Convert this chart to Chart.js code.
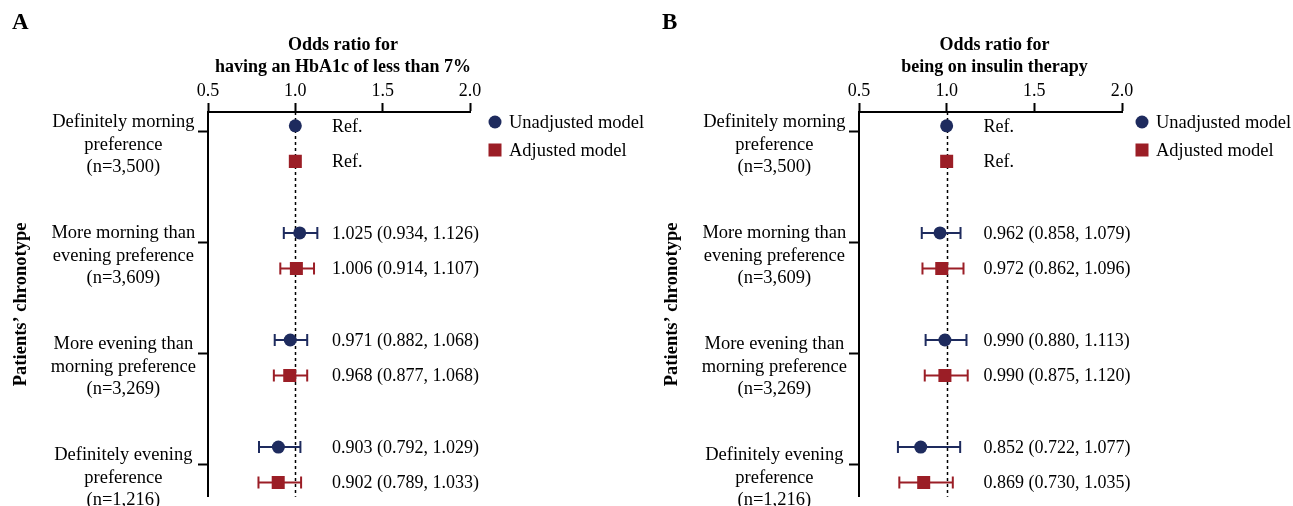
<!DOCTYPE html>
<html>
<head>
<meta charset="utf-8">
<script src="https://cdn.jsdelivr.net/npm/chart.js@4"></script>
<style>
  body { margin: 0; background: #fff; }
  .panel { position: absolute; top: 0; height: 506px; }
  #wrapA { left: 0; width: 646px; }
  #wrapB { left: 646px; width: 647px; }
</style>
</head>
<body>
<div class="panel" id="wrapA"><canvas id="chartA"></canvas></div>
<div class="panel" id="wrapB"><canvas id="chartB"></canvas></div>
<script>
// chronotype groups (y axis labels)
const groups = [
  ['Definitely morning', 'preference', '(n=3,500)'],
  ['More morning than', 'evening preference', '(n=3,609)'],
  ['More evening than', 'morning preference', '(n=3,269)'],
  ['Definitely evening', 'preference', '(n=1,216)']
];
const seriesNames = ['Unadjusted model', 'Adjusted model'];
const xTicks = [0.5, 1.0, 1.5, 2.0];

// panel A: HbA1c < 7%
const hba1cUnadjOR = [1.000, 1.025, 0.971, 0.903];
const hba1cUnadjLow = [null, 0.934, 0.882, 0.792];
const hba1cUnadjHigh = [null, 1.126, 1.068, 1.029];
const hba1cAdjOR = [1.000, 1.006, 0.968, 0.902];
const hba1cAdjLow = [null, 0.914, 0.877, 0.789];
const hba1cAdjHigh = [null, 1.107, 1.068, 1.033];

// panel B: insulin therapy
const insulinUnadjOR = [1.000, 0.962, 0.990, 0.852];
const insulinUnadjLow = [null, 0.858, 0.880, 0.722];
const insulinUnadjHigh = [null, 1.079, 1.113, 1.077];
const insulinAdjOR = [1.000, 0.972, 0.990, 0.869];
const insulinAdjLow = [null, 0.862, 0.875, 0.730];
const insulinAdjHigh = [null, 1.096, 1.120, 1.035];

const FONT = '"Liberation Serif", "Times New Roman", serif';
const NAVY = '#1e2b5e';
const RED = '#9b1e26';

// row position on the y axis: pair of points around each group tick
function rowY(i, k) {
  const shift = (groups.length - 1 - i) * 0.035;
  return i + 1 + shift + (k === 0 ? -0.16 : 0.16);
}

const forestPlugin = {
  id: 'forest',
  beforeDatasetsDraw(chart) {
    const {ctx, chartArea, scales: {x, y}} = chart;
    // reference line at OR = 1
    ctx.save();
    ctx.strokeStyle = '#000';
    ctx.lineWidth = 1.5;
    ctx.setLineDash([3, 3]);
    const x1 = Math.round(x.getPixelForValue(1)) + 0.5;
    ctx.beginPath();
    ctx.moveTo(x1, chartArea.top);
    ctx.lineTo(x1, chartArea.bottom);
    ctx.stroke();
    ctx.setLineDash([]);
    // confidence intervals
    chart.data.datasets.forEach(ds => {
      ctx.strokeStyle = ds.borderColor;
      ctx.lineWidth = 2;
      ds.data.forEach((p, i) => {
        if (ds.low[i] == null) return;
        const a = x.getPixelForValue(ds.low[i]);
        const b = x.getPixelForValue(ds.high[i]);
        const py = y.getPixelForValue(p.y);
        ctx.beginPath();
        ctx.moveTo(a, py); ctx.lineTo(b, py);
        ctx.moveTo(a, py - 6); ctx.lineTo(a, py + 6);
        ctx.moveTo(b, py - 6); ctx.lineTo(b, py + 6);
        ctx.stroke();
      });
    });
    ctx.restore();
  },
  afterDraw(chart, args, opts) {
    const {ctx, chartArea, scales: {x, y}} = chart;
    ctx.save();
    ctx.fillStyle = '#000';
    // estimate labels
    ctx.font = '18px ' + FONT;
    ctx.textAlign = 'left';
    ctx.textBaseline = 'middle';
    const tx = x.getPixelForValue(1.21);
    chart.data.datasets.forEach(ds => {
      ds.data.forEach((p, i) => {
        const txt = ds.low[i] == null ? 'Ref.'
          : p.x.toFixed(3) + ' (' + ds.low[i].toFixed(3) + ', ' + ds.high[i].toFixed(3) + ')';
        ctx.fillText(txt, tx, y.getPixelForValue(p.y) + 1);
      });
    });
    // panel letter
    ctx.font = 'bold 23px ' + FONT;
    ctx.fillText(opts.letter, opts.letterX, 23);
    // axis title
    ctx.font = 'bold 18px ' + FONT;
    ctx.textAlign = 'center';
    const cx = (chartArea.left + chartArea.right) / 2 + 4;
    ctx.fillText(opts.title[0], cx, 45);
    ctx.fillText(opts.title[1], cx, 67);
    // legend
    ctx.font = '18.5px ' + FONT;
    ctx.textAlign = 'left';
    const lx = chartArea.right + opts.legendDx;
    const ly = [chartArea.top + 10, chartArea.top + 38];
    ctx.fillStyle = NAVY;
    ctx.beginPath(); ctx.arc(lx, ly[0], 6.5, 0, Math.PI * 2); ctx.fill();
    ctx.fillStyle = RED;
    ctx.fillRect(lx - 6.5, ly[1] - 6.5, 13, 13);
    ctx.fillStyle = '#000';
    ctx.fillText(seriesNames[0], lx + 14, ly[0] + 1);
    ctx.fillText(seriesNames[1], lx + 14, ly[1] + 1);
    ctx.restore();
  }
};

function makeChart(id, p) {
  const unadj = {
    label: seriesNames[0],
    data: p.unOR.map((v, i) => ({x: v, y: rowY(i, 0)})),
    low: p.unLow, high: p.unHigh,
    pointStyle: 'circle', pointRadius: 6.5,
    backgroundColor: NAVY, borderColor: NAVY, borderWidth: 0
  };
  const adj = {
    label: seriesNames[1],
    data: p.adOR.map((v, i) => ({x: v, y: rowY(i, 1)})),
    low: p.adLow, high: p.adHigh,
    pointStyle: 'rect', pointRadius: 9.2,
    backgroundColor: RED, borderColor: RED, borderWidth: 0
  };
  return new Chart(document.getElementById(id), {
    type: 'scatter',
    data: {datasets: [unadj, adj]},
    plugins: [forestPlugin],
    options: {
      responsive: true,
      maintainAspectRatio: false,
      animation: false,
      events: [],
      layout: {padding: {top: 0, left: 0, right: p.right, bottom: 9}},
      plugins: {
        legend: {display: false},
        tooltip: {enabled: false},
        forest: {letter: p.letter, letterX: p.letterX, title: p.title, legendDx: p.legendDx}
      },
      scales: {
        x: {
          type: 'linear', position: 'top', min: 0.5, max: 2.0,
          afterBuildTicks: s => { s.ticks = xTicks.map(v => ({value: v})); },
          afterFit: s => { s.height = 112; s.paddingLeft = 0; s.paddingRight = 0; },
          ticks: {callback: v => Number(v).toFixed(1), font: {family: FONT, size: 18}, color: '#000', padding: 1, maxRotation: 0},
          grid: {drawOnChartArea: false, drawTicks: true, tickLength: 9, tickWidth: 2, color: '#000'},
          border: {display: true, width: 2, color: '#000'}
        },
        y: {
          type: 'linear', reverse: true, min: 0.82, max: 4.288,
          afterBuildTicks: s => { s.ticks = groups.map((g, i) => ({value: i + 1})); },
          afterFit: s => { s.width = p.left; s.paddingTop = 0; s.paddingBottom = 0; },
          ticks: {
            callback: v => groups[Math.round(v) - 1],
            crossAlign: 'center', labelOffset: 13, padding: 2, autoSkip: false,
            font: {family: FONT, size: 18.5, lineHeight: 1.21}, color: '#000'
          },
          grid: {drawOnChartArea: false, drawTicks: true, tickLength: 10, tickWidth: 2, color: '#000'},
          border: {display: true, width: 2, color: '#000'},
          title: {display: true, text: 'Patients’ chronotype', color: '#000',
            font: {family: FONT, size: 18.5, weight: 'bold'}, padding: {top: p.titlePad, bottom: 0}}
        }
      }
    }
  });
}

makeChart('chartA', {
  letter: 'A', letterX: 12, left: 208, right: 176, legendDx: 25, titlePad: 10,
  title: ['Odds ratio for', 'having an HbA1c of less than 7%'],
  unOR: hba1cUnadjOR, unLow: hba1cUnadjLow, unHigh: hba1cUnadjHigh,
  adOR: hba1cAdjOR, adLow: hba1cAdjLow, adHigh: hba1cAdjHigh
});
makeChart('chartB', {
  letter: 'B', letterX: 16, left: 213, right: 171, legendDx: 20, titlePad: 15,
  title: ['Odds ratio for', 'being on insulin therapy'],
  unOR: insulinUnadjOR, unLow: insulinUnadjLow, unHigh: insulinUnadjHigh,
  adOR: insulinAdjOR, adLow: insulinAdjLow, adHigh: insulinAdjHigh
});
</script>
</body>
</html>
